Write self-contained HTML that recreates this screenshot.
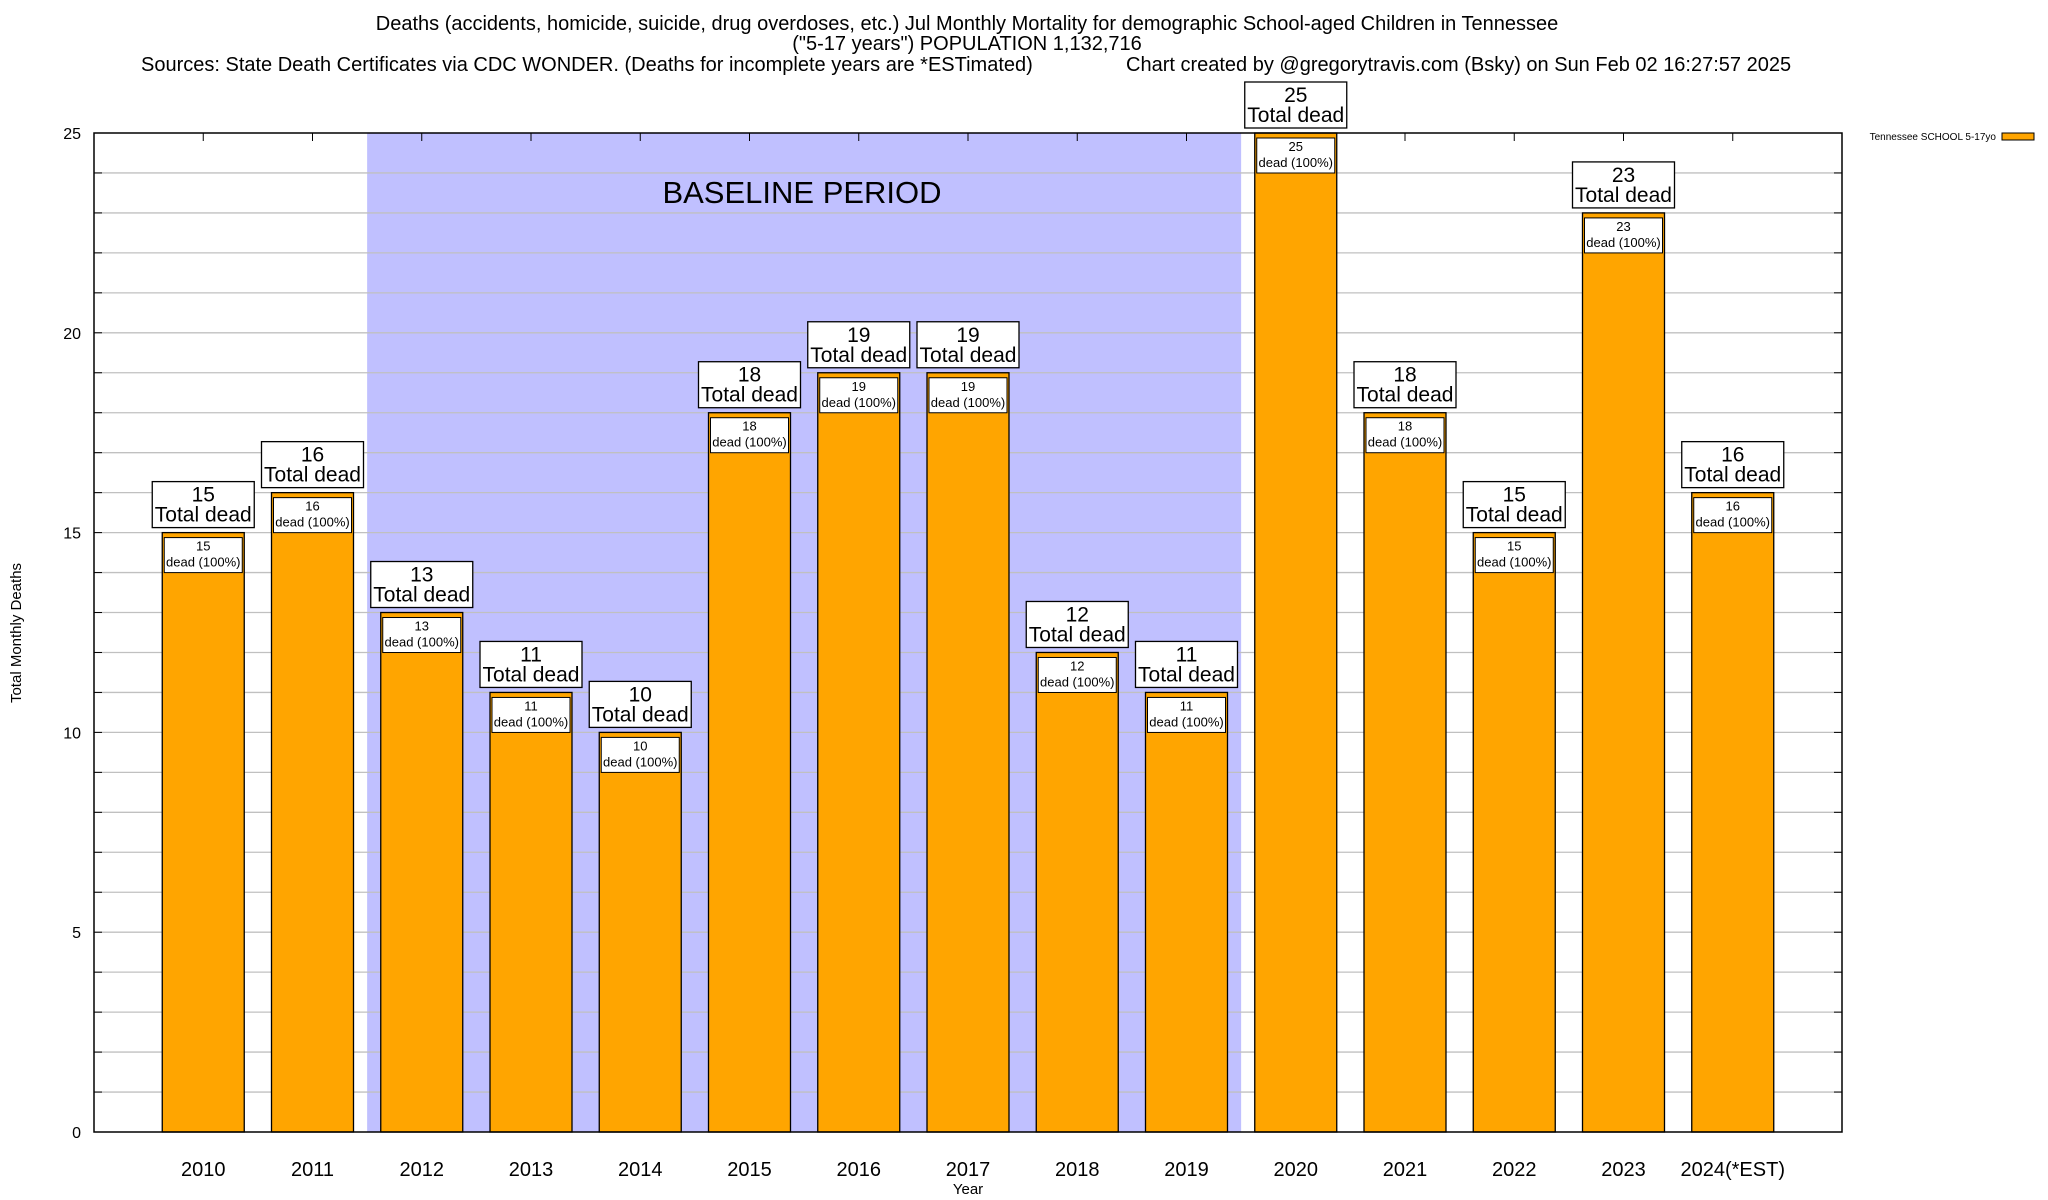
<!DOCTYPE html>
<html><head><meta charset="utf-8"><style>
html,body{margin:0;padding:0;background:#fff;}
svg{display:block;font-family:"Liberation Sans",sans-serif;}
</style></head><body>
<svg id="chart" width="2048" height="1200" viewBox="0 0 2048 1200">
<g font-size="20" fill="#000" text-anchor="middle">
<text x="967" y="30">Deaths (accidents, homicide, suicide, drug overdoses, etc.) Jul Monthly Mortality for demographic School-aged Children in Tennessee</text>
<text x="967" y="50">("5-17 years") POPULATION 1,132,716</text>
<text x="141" y="71" text-anchor="start">Sources: State Death Certificates via CDC WONDER. (Deaths for incomplete years are *ESTimated)</text>
<text x="1126" y="71" text-anchor="start">Chart created by @gregorytravis.com (Bsky) on Sun Feb 02 16:27:57 2025</text>
</g>
<g id="plot"></g>
</svg>
<script>
const categories = ["2010","2011","2012","2013","2014","2015","2016","2017","2018","2019","2020","2021","2022","2023","2024(*EST)"];
const deaths = [15,16,13,11,10,18,19,19,12,11,25,18,15,23,16];
const yTicks = [0,5,10,15,20,25];
const baselineStart = 1.5, baselineEnd = 9.5;

const L=94,R=1842,T=133,B=1132;
const xS = i => L + (i+1)*(R-L)/16;
const yS = v => B - v*(B-T)/25;
const NS="http://www.w3.org/2000/svg";
const g=document.getElementById('plot');
function mk(tag,attrs,parent){const e=document.createElementNS(NS,tag);for(const k in attrs)e.setAttribute(k,attrs[k]);(parent||g).appendChild(e);return e;}

const band=mk('rect',{x:xS(baselineStart),y:T,width:xS(baselineEnd)-xS(baselineStart),height:B-T,fill:'#c0c0ff'});


const bl=mk('text',{x:802,y:203,'font-size':31,'text-anchor':'middle'});bl.textContent='BASELINE PERIOD';



for(let v=1;v<25;v++){
  const ln=mk('line',{x1:L,x2:R,y1:yS(v),y2:yS(v),stroke:'#c0c0c0','stroke-width':1.3});
  
  
  mk('line',{x1:L,x2:L+8,y1:yS(v),y2:yS(v),stroke:'#000'});
  mk('line',{x1:R,x2:R-8,y1:yS(v),y2:yS(v),stroke:'#000'});
}
yTicks.forEach(v=>{
  const t=mk('text',{x:81,y:yS(v)+6,'font-size':16,'text-anchor':'end'});t.textContent=v;
  
  
});

const bw=82;
categories.forEach((c,i)=>{
  const cx=xS(i), v=deaths[i], top=yS(v);
  mk('line',{x1:cx,x2:cx,y1:T,y2:T+8,stroke:'#000'});
  const bar=mk('rect',{x:cx-bw/2,y:top,width:bw,height:B-top,fill:'#ffa500',stroke:'#000','stroke-width':1.3});
  
  
  const ib=mk('rect',{x:cx-bw/2+2,y:top+5,width:bw-4,height:35,fill:'#fff',stroke:'#000','stroke-width':1});
  
  
  const t1=mk('text',{x:cx,y:top+18,'font-size':13,'text-anchor':'middle'});t1.textContent=v;
  const t2=mk('text',{x:cx,y:top+34,'font-size':13,'text-anchor':'middle'});t2.textContent='dead (100%)';
  const ob=mk('rect',{x:cx-51,y:top-51,width:102,height:46,fill:'#fff',stroke:'#000','stroke-width':1.3});
  
  
  const o1=mk('text',{x:cx,y:top-31,'font-size':21,'text-anchor':'middle'});o1.textContent=v;
  const o2=mk('text',{x:cx,y:top-11,'font-size':21,'text-anchor':'middle'});o2.textContent='Total dead';
  const xl=mk('text',{x:cx,y:1176,'font-size':20,'text-anchor':'middle'});xl.textContent=c;
  
  
});
const ax=mk('rect',{x:L,y:T,width:R-L,height:B-T,fill:'none',stroke:'#000','stroke-width':1.5});


const xt=mk('text',{x:968,y:1194,'font-size':15,'text-anchor':'middle'});xt.textContent='Year';


const yt=mk('text',{x:0,y:0,'font-size':15,'text-anchor':'middle',transform:'translate(21,633) rotate(-90)'});yt.textContent='Total Monthly Deaths';


const lt=mk('text',{x:1996,y:140,'font-size':10,'text-anchor':'end'});lt.textContent='Tennessee SCHOOL 5-17yo';


const ls=mk('rect',{x:2002,y:133,width:32,height:7,fill:'#ffa500',stroke:'#000'});


</script>
</body></html>
